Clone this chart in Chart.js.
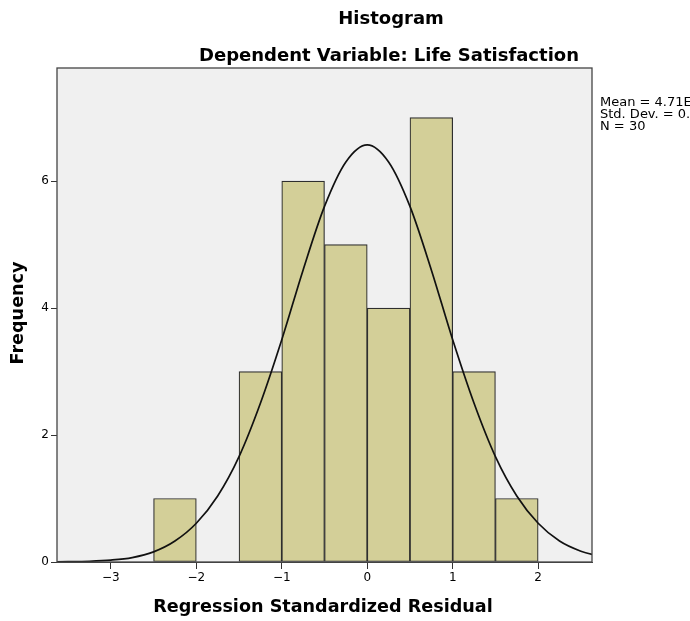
<!DOCTYPE html>
<html>
<head>
<meta charset="utf-8">
<script src="https://cdn.jsdelivr.net/npm/chart.js@4"></script>
<style>
  html, body { margin: 0; padding: 0; background: #fff; }
  #wrap { width: 690px; height: 621px; }
</style>
</head>
<body>
<div id="wrap"><canvas id="hist" width="690" height="621"></canvas></div>
<script>
// bins of width 0.5, given by their centres
const binCenters = [-2.25, -1.75, -1.25, -0.75, -0.25, 0.25, 0.75, 1.25, 1.75];
const binCounts = [1, 0, 3, 6, 5, 4, 7, 3, 1];

// normal curve
const curveX = [-3.75, -3.5, -3.25, -3, -2.75, -2.5, -2.25, -2, -1.75, -1.5, -1.25, -1, -0.75, -0.5, -0.25, 0,
  0.25, 0.5, 0.75, 1, 1.25, 1.5, 1.75, 2, 2.25, 2.5, 2.75];
const curveY = [0.002, 0.005, 0.012, 0.03, 0.07, 0.16, 0.33, 0.61, 1.04, 1.66, 2.5, 3.5, 4.6, 5.6, 6.3, 6.57,
  6.3, 5.6, 4.6, 3.5, 2.5, 1.66, 1.04, 0.61, 0.33, 0.17, 0.08];

const xTicks = [-3, -2, -1, 0, 1, 2];
const yTicks = [0, 2, 4, 6];
const statsLines = ['Mean = 4.71E-17', 'Std. Dev. = 0.983', 'N = 30'];

const FONT = '"DejaVu Sans", sans-serif';

const frame = {
  id: 'frame',
  beforeDatasetsDraw(chart) {
    const { ctx, chartArea: a } = chart;
    ctx.save();
    ctx.fillStyle = '#f0f0f0';
    ctx.fillRect(a.left, a.top, a.right - a.left, a.bottom - a.top);
    ctx.restore();
  },
  afterDraw(chart) {
    const { ctx, chartArea: a } = chart;
    ctx.save();
    ctx.strokeStyle = '#444';
    ctx.lineWidth = 1.3;
    ctx.strokeRect(a.left, a.top, a.right - a.left, a.bottom - a.top);

    ctx.fillStyle = '#000';
    ctx.textAlign = 'center';
    ctx.textBaseline = 'alphabetic';
    ctx.font = 'bold 18px ' + FONT;
    ctx.fillText('Histogram', 391, 24);
    ctx.fillText('Dependent Variable: Life Satisfaction', 389, 61);
    ctx.font = 'bold 17.6px ' + FONT;
    ctx.fillText('Regression Standardized Residual', 323, 612);

    ctx.save();
    ctx.translate(23, 313);
    ctx.rotate(-Math.PI / 2);
    ctx.fillText('Frequency', 0, 0);
    ctx.restore();

    ctx.textAlign = 'left';
    ctx.font = '13px ' + FONT;
    statsLines.forEach((t, i) => ctx.fillText(t, 600, 106 + i * 12));
    ctx.restore();
  }
};

new Chart(document.getElementById('hist'), {
  data: {
    datasets: [
      {
        type: 'line',
        data: curveX.map((x, i) => ({ x, y: curveY[i] })),
        borderColor: '#111',
        borderWidth: 1.7,
        pointRadius: 0,
        cubicInterpolationMode: 'monotone',
        order: 0
      },
      {
        type: 'bar',
        data: binCenters.map((x, i) => ({ x, y: binCounts[i] })),
        backgroundColor: '#d3cf98',
        borderColor: '#2e2e2e',
        borderWidth: 1.2,
        borderSkipped: false,
        barPercentage: 1,
        categoryPercentage: 1,
        order: 1
      }
    ]
  },
  options: {
    responsive: false,
    animation: false,
    layout: { padding: { left: 0, right: 98, top: 68, bottom: 0 } },
    plugins: { legend: { display: false }, tooltip: { enabled: false } },
    scales: {
      x: {
        type: 'linear',
        offset: false,
        min: -3.63,
        max: 2.63,
        afterBuildTicks: s => { s.ticks = xTicks.map(v => ({ value: v })); },
        afterFit: s => { s.height = 59; },
        grid: { offset: false, drawOnChartArea: false, tickLength: 7, color: '#333' },
        border: { color: '#444' },
        ticks: { color: '#000', font: { family: FONT, size: 12 }, padding: 2, maxRotation: 0,
          callback: v => (v < 0 ? '\u2212' + Math.abs(v) : v) }
      },
      y: {
        min: 0,
        max: 7.78,
        afterBuildTicks: s => { s.ticks = yTicks.map(v => ({ value: v })); },
        afterFit: s => { s.width = 57; },
        grid: { drawOnChartArea: false, tickLength: 6, color: '#333' },
        border: { color: '#444' },
        ticks: { color: '#000', font: { family: FONT, size: 12 }, padding: 2 }
      }
    }
  },
  plugins: [frame]
});
</script>
</body>
</html>
